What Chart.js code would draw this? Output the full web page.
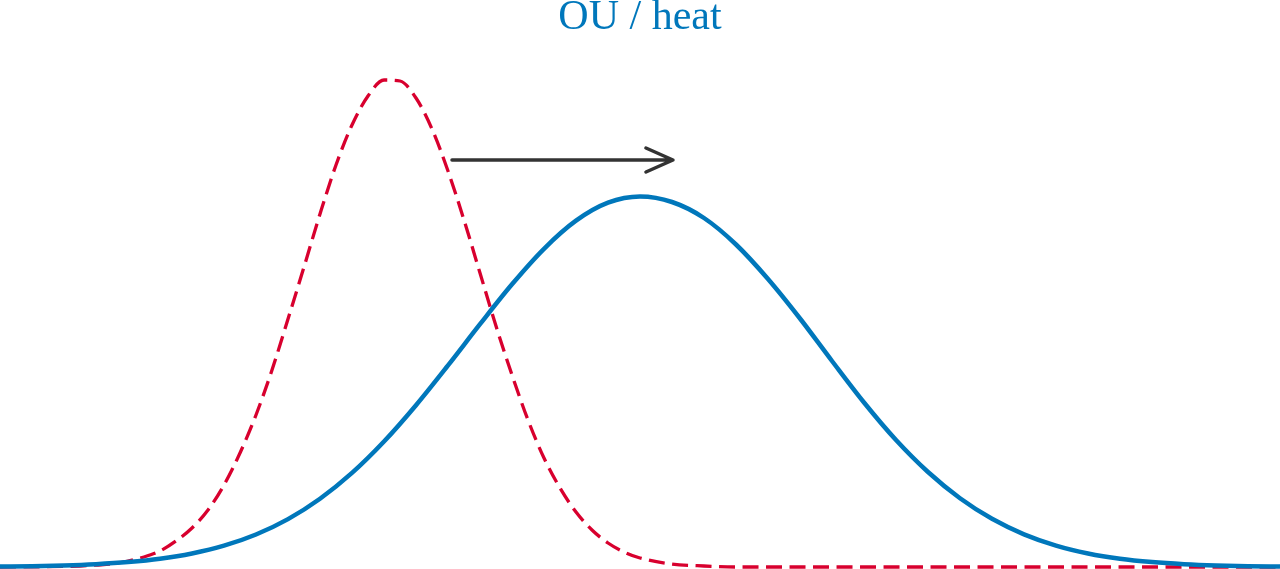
<!DOCTYPE html>
<html lang="en">
<head>
    <meta charset="UTF-8">
    <title>OU / heat</title>
    <script src="https://cdn.jsdelivr.net/npm/chart.js"></script>
    <style>
        html, body { margin: 0; padding: 0; background: #fff; }
        .grafico { width: 1280px; height: 569px; }
    </style>
</head>
<body>
    <div class="grafico">
        <canvas id="graficoOU"></canvas>
    </div>
<script>
    // values (x in std units, y = density)
    const redX = [-4.0, -3.5, -3.4, -3.3, -3.2, -3.1, -3.0, -2.9, -2.8, -2.7, -2.6, -2.5, -2.4, -2.3, -2.2, -2.1,
        -2.0, -1.9, -1.8, -1.7, -1.6, -1.5, -1.4, -1.3, -1.2, -1.1, -1.0, -0.9, -0.8, -0.7, -0.6, -0.5,
        -0.4, -0.3, -0.2, -0.1, 0.0, 0.2, 0.4, 0.6, 1.0, 4.0];
    const redY = [0.000, 0.001, 0.002, 0.003, 0.006, 0.010, 0.016, 0.026, 0.039, 0.057, 0.082, 0.114, 0.152, 0.197, 0.248, 0.300,
        0.353, 0.402, 0.442, 0.471, 0.487, 0.486, 0.469, 0.438, 0.396, 0.347, 0.294, 0.241, 0.192, 0.147, 0.109, 0.079,
        0.055, 0.037, 0.024, 0.015, 0.009, 0.003, 0.001, 0.000, 0.000, 0.000];

    const blueX = [-4.0, -3.8, -3.6, -3.4, -3.2, -3.0, -2.8, -2.6, -2.4, -2.2, -2.0, -1.8, -1.6, -1.4, -1.2, -1.0,
        -0.8, -0.6, -0.4, -0.2, 0.0, 0.2, 0.4, 0.6, 0.8, 1.0, 1.2, 1.4, 1.6, 1.8, 2.0, 2.2,
        2.4, 2.6, 2.8, 3.0, 3.2, 3.4, 3.6, 3.8, 4.0];
    const blueY = [0.0004, 0.0008, 0.0015, 0.0028, 0.0049, 0.0082, 0.0135, 0.0213, 0.0325, 0.0479, 0.0683, 0.0941, 0.1255, 0.1618, 0.2016, 0.2428,
        0.2827, 0.3182, 0.3463, 0.3643, 0.3705, 0.3650, 0.3490, 0.3225, 0.2880, 0.2485, 0.2060, 0.1645, 0.1270, 0.0950, 0.0688, 0.0482,
        0.0327, 0.0214, 0.0135, 0.0082, 0.0049, 0.0028, 0.0015, 0.0008, 0.0004];

    // arrow: from the red peak towards the blue one
    const arrowFrom = [-1.175, 0.407];
    const arrowTo = [0.206, 0.407];

    const titulo = 'OU / heat';

    function pontos(xs, ys) {
        let lista = [];
        for (let i = 0; i < xs.length; i++) {
            lista.push({ x: xs[i], y: ys[i] });
        }
        return lista;
    }

    // desenha a seta depois das curvas
    const setaPlugin = {
        id: 'seta',
        afterDatasetsDraw(chart) {
            const ctx = chart.ctx;
            const xs = chart.scales.x;
            const ys = chart.scales.y;
            const x0 = xs.getPixelForValue(arrowFrom[0]);
            const y0 = ys.getPixelForValue(arrowFrom[1]);
            const x1 = xs.getPixelForValue(arrowTo[0]);
            const y1 = ys.getPixelForValue(arrowTo[1]);
            ctx.save();
            ctx.strokeStyle = '#333333';
            ctx.lineWidth = 3.5;
            ctx.lineCap = 'round';
            ctx.lineJoin = 'round';
            ctx.beginPath();
            ctx.moveTo(x0, y0);
            ctx.lineTo(x1, y1);
            ctx.moveTo(x1 - 27, y1 - 12);
            ctx.lineTo(x1, y1);
            ctx.lineTo(x1 - 27, y1 + 12);
            ctx.stroke();
            ctx.restore();
        }
    };

    let ctx = document.getElementById('graficoOU');
    new Chart(ctx, {
        type: 'line',
        data: {
            datasets: [{
                label: 'heat',
                data: pontos(blueX, blueY),
                borderColor: '#0077bb',
                borderWidth: 4.5,
                pointRadius: 0,
                cubicInterpolationMode: 'monotone',
                clip: false,
                order: 0
            }, {
                label: 'OU',
                data: pontos(redX, redY),
                borderColor: '#d8002e',
                borderWidth: 3.3,
                borderDash: [16, 7.5],
                pointRadius: 0,
                cubicInterpolationMode: 'monotone',
                clip: false,
                order: 1
            }]
        },
        options: {
            responsive: true,
            maintainAspectRatio: false,
            animation: false,
            layout: { padding: { top: 0, bottom: 2, left: 0, right: 0 } },
            scales: {
                x: { type: 'linear', min: -4, max: 4, display: false },
                y: { min: 0, max: 0.5313, display: false }
            },
            plugins: {
                legend: { display: false },
                tooltip: { enabled: false },
                title: {
                    display: true,
                    text: titulo,
                    color: '#0077bb',
                    font: { family: 'Liberation Serif', size: 42, weight: 'normal', lineHeight: 0.85 },
                    padding: { top: 0, bottom: 0 }
                }
            }
        },
        plugins: [setaPlugin]
    });
</script>
</body>
</html>
